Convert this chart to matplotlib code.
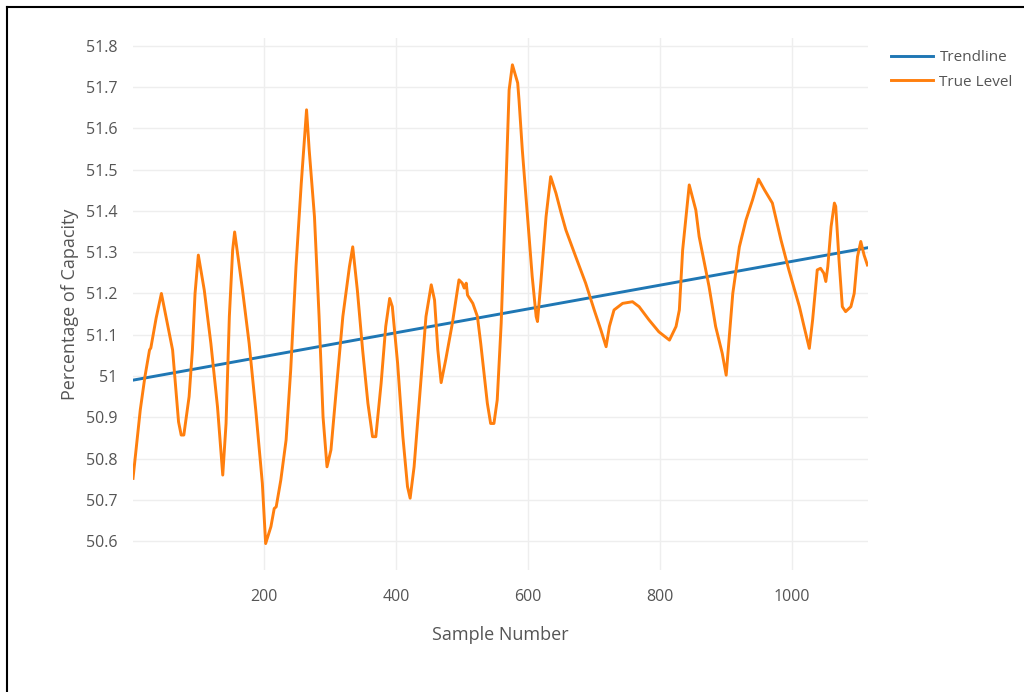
import matplotlib
matplotlib.use("Agg")
import matplotlib.pyplot as plt
from matplotlib.lines import Line2D
from matplotlib.ticker import FuncFormatter

# sample numbers and tank level
sample = [1, 12, 19, 26, 28, 36, 44, 53, 61, 66, 70, 74, 78, 86, 91, 95, 100, 109, 119, 129,
          137, 142, 147, 152, 155, 167, 177, 187, 197, 202, 210, 215, 218, 225, 233, 240, 248,
          256, 264, 268, 276, 283, 289, 295, 301, 309, 319, 329, 334, 341, 349, 357, 364, 369,
          377, 384, 390, 394, 402, 410, 417, 421, 427, 435, 445, 453, 458, 463, 468, 475, 485,
          495, 500, 503, 506, 508, 516, 523, 528, 533, 538, 543, 548, 553, 559, 566, 571, 576,
          584, 586, 591, 599, 606, 612, 614, 619, 627, 634, 642, 650, 657, 672, 687, 700, 710,
          718, 723, 730, 743, 758, 768, 783, 798, 814, 824, 829, 834, 844, 854, 859, 874, 884,
          894, 900, 910, 920, 930, 940, 949, 958, 970, 983, 995, 1011, 1018, 1026, 1031, 1038,
          1043, 1048, 1051, 1054, 1059, 1064, 1066, 1071, 1076, 1081, 1089, 1094, 1099, 1104,
          1109, 1114]
level = [50.752, 50.918, 50.998, 51.063, 51.068, 51.14, 51.200, 51.128, 51.063, 50.966, 50.889,
         50.857, 50.857, 50.950, 51.063, 51.20, 51.293, 51.208, 51.079, 50.926, 50.760, 50.885,
         51.144, 51.305, 51.349, 51.208, 51.079, 50.918, 50.740, 50.594, 50.635, 50.679, 50.683,
         50.748, 50.845, 51.015, 51.265, 51.467, 51.645, 51.548, 51.386, 51.144, 50.901, 50.780,
         50.821, 50.966, 51.144, 51.265, 51.313, 51.208, 51.063, 50.934, 50.853, 50.853, 50.982,
         51.120, 51.188, 51.168, 51.031, 50.853, 50.732, 50.704, 50.780, 50.942, 51.144, 51.221,
         51.184, 51.063, 50.984, 51.040, 51.128, 51.233, 51.225, 51.213, 51.225, 51.196, 51.176,
         51.144, 51.079, 51.007, 50.934, 50.885, 50.885, 50.942, 51.128, 51.451, 51.693, 51.754,
         51.710, 51.669, 51.548, 51.386, 51.241, 51.144, 51.132, 51.225, 51.386, 51.483, 51.443,
         51.394, 51.354, 51.289, 51.225, 51.160, 51.112, 51.071, 51.120, 51.160, 51.176, 51.180,
         51.168, 51.136, 51.107, 51.087, 51.120, 51.160, 51.305, 51.463, 51.402, 51.338, 51.217,
         51.120, 51.055, 51.002, 51.200, 51.313, 51.378, 51.427, 51.477, 51.451, 51.419, 51.330,
         51.257, 51.168, 51.120, 51.067, 51.136, 51.257, 51.261, 51.249, 51.229, 51.265, 51.362,
         51.419, 51.411, 51.281, 51.168, 51.156, 51.168, 51.200, 51.289, 51.326, 51.293, 51.269]

trend_x = [1, 1115]
trend_y = [50.990, 51.311]

yticks = [50.6, 50.7, 50.8, 50.9, 51.0, 51.1, 51.2, 51.3, 51.4, 51.5, 51.6, 51.7, 51.8]
xticks = [200, 400, 600, 800, 1000]

plt.rcParams['font.family'] = ['Open Sans', 'DejaVu Sans']
grey = '#555555'

fig = plt.figure(figsize=(10.24, 6.92), dpi=100)
ax = fig.add_axes([0.1299, 0.1763, 0.7178, 0.7688])

ax.plot(trend_x, trend_y, color='#1f77b4', lw=2.1, label='Trendline')
ax.plot(sample, level, color='#ff7f0e', lw=2.1, label='True Level',
        solid_joinstyle='round')

ax.set_xlim(1, 1115)
ax.set_ylim(50.53, 51.819)
ax.set_xticks(xticks)
ax.set_yticks(yticks)
ax.yaxis.set_major_formatter(FuncFormatter(lambda v, p: f'{v:g}'))
ax.grid(True, color='#eeeeee', lw=1)
ax.set_axisbelow(True)
for s in ax.spines.values():
    s.set_visible(False)
ax.tick_params(length=0, labelsize=11.5, labelcolor=grey)
ax.tick_params(axis='y', pad=11)
ax.tick_params(axis='x', pad=14)

ax.set_xlabel('Sample Number', fontsize=13, color=grey)
ax.set_ylabel('Percentage of Capacity', fontsize=13, color=grey)
ax.xaxis.set_label_coords(0.5, -0.106)
ax.yaxis.set_label_coords(-0.074, 0.5)

leg = fig.legend(loc='upper left', bbox_to_anchor=(0.857, 0.947), frameon=False,
                 fontsize=11, handlelength=2.7, handletextpad=0.45, labelspacing=0.6)
for t in leg.get_texts():
    t.set_color(grey)

# image frame (left and top edges)
fig.add_artist(Line2D([0.0068, 0.0068], [0.0, 0.9899], color='black', lw=1.5))
fig.add_artist(Line2D([0.0068, 1.0], [0.9899, 0.9899], color='black', lw=1.5))

fig.savefig('out.png', dpi=100)
